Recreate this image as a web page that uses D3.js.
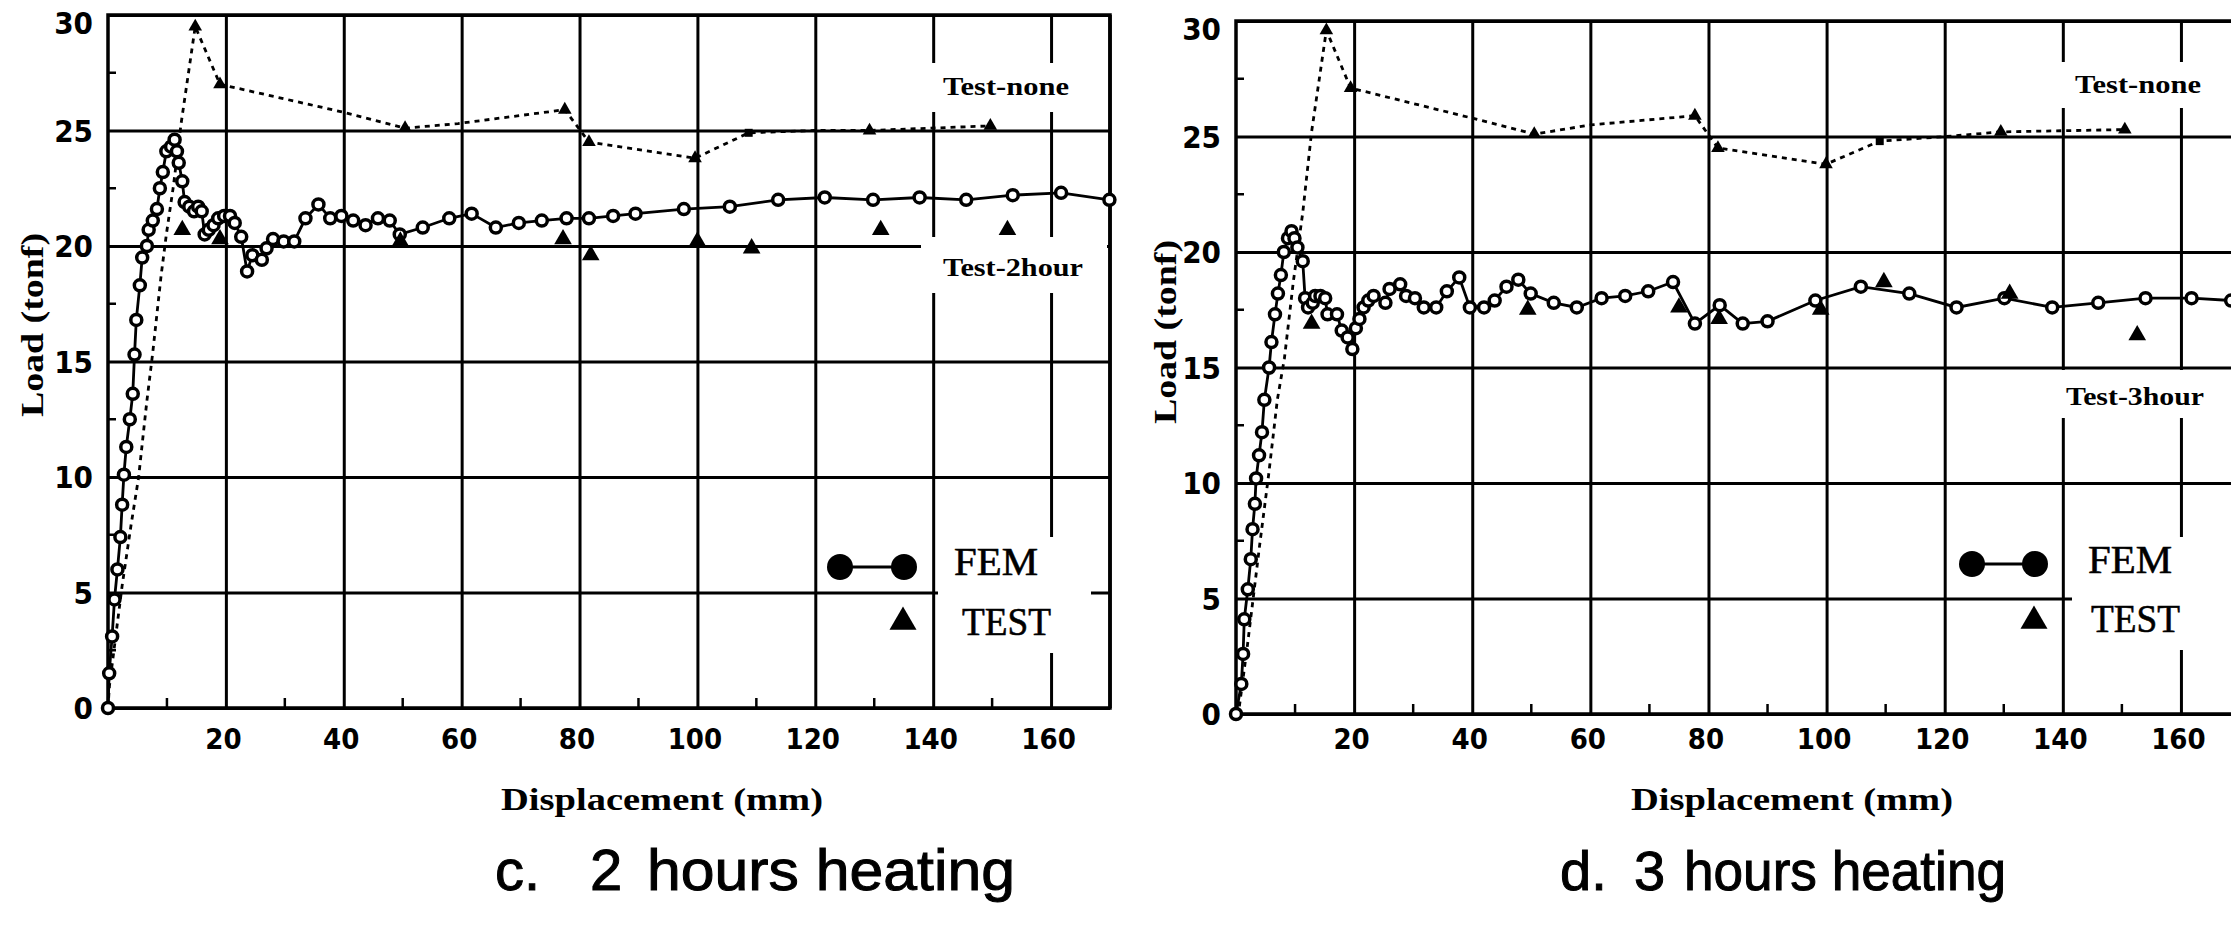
<!DOCTYPE html>
<html><head><meta charset="utf-8">
<script src="https://cdn.jsdelivr.net/npm/d3@7"></script>
<style>
html,body{margin:0;padding:0;background:#fff;}
svg{display:block;}
</style></head><body>
<svg id="chart" width="2231" height="929"></svg>
<script>
// ---------- shared axis values ----------
const xTickValues = [20, 40, 60, 80, 100, 120, 140, 160];
const yTickValues = [0, 5, 10, 15, 20, 25, 30];
const xMinorTicks = [10, 30, 50, 70, 90, 110, 130, 150];
const yMinorTicks = [2.5, 7.5, 12.5, 17.5, 22.5, 27.5];

// ---------- c. 2 hours heating ----------
const fem2X = [0,0.2,0.7,1.1,1.6,2.1,2.4,2.7,3.1,3.7,4.2,4.5,4.8,5.4,5.8,6.6,6.9,7.6,8.3,8.8,9.3,9.9,10.7,11.3,11.7,12.0,12.6,13.0,13.8,14.6,15.3,15.9,16.4,17.1,17.9,18.7,19.7,20.7,21.5,22.6,23.6,24.5,26.1,26.9,28.0,29.8,31.6,33.5,35.7,37.7,39.6,41.6,43.7,45.8,47.8,49.5,53.4,57.9,61.7,65.8,69.7,73.6,77.8,81.6,85.7,89.5,97.7,105.5,113.7,121.6,129.8,137.7,145.6,153.5,161.7,169.9];
const fem2Y = [0,1.5,3.1,4.7,6.0,7.4,8.8,10.1,11.3,12.5,13.6,15.3,16.8,18.3,19.5,20.0,20.7,21.1,21.6,22.5,23.2,24.1,24.3,24.6,24.1,23.6,22.8,21.9,21.7,21.5,21.7,21.5,20.5,20.7,20.9,21.2,21.3,21.3,21.0,20.4,18.9,19.6,19.4,19.9,20.3,20.2,20.2,21.2,21.8,21.2,21.3,21.1,20.9,21.2,21.1,20.5,20.8,21.2,21.4,20.8,21.0,21.1,21.2,21.2,21.3,21.4,21.6,21.7,22.0,22.1,22.0,22.1,22.0,22.2,22.3,22.0];
const test2X = [12.6, 19.0, 49.6, 77.2, 81.9, 100.0, 109.2, 131.1, 152.6];
const test2Y = [20.7, 20.3, 20.2, 20.3, 19.6, 20.2, 19.9, 20.7, 20.7];
const none2X = [0, 0.24, 2.4, 3.9, 5.2, 6.0, 6.6, 7.6, 9.0, 9.9, 11.1, 12.4, 14.8, 19.0, 39.8, 50.4, 59.4, 77.5, 81.6, 99.6, 108.7, 119.8, 129.2, 149.7];
const none2Y = [0, 0.95, 5.3, 7.9, 10.0, 11.9, 13.3, 15.4, 18.7, 20.5, 22.6, 25.3, 29.5, 27.0, 25.8, 25.1, 25.3, 25.9, 24.5, 23.8, 24.9, 25.0, 25.0, 25.2];
const none2Mark = ['', '', '', '', '', '', '', '', '', '', '', '', 't', 't', '', 't', '', 't', 't', 't', 's', '', 't', 't'];

// ---------- d. 3 hours heating ----------
const fem3X = [0,0.9,1.2,1.4,2.0,2.5,2.8,3.2,3.4,3.9,4.4,4.8,5.6,6.0,6.6,7.1,7.6,8.1,8.8,9.4,9.9,10.4,11.3,11.7,12.2,13.0,13.4,14.3,15.1,15.5,17.1,17.9,18.9,19.7,20.3,20.9,21.6,22.4,23.3,25.3,26.0,27.8,28.8,30.3,31.8,33.9,35.7,37.8,39.6,42.0,43.8,45.8,47.8,49.9,53.8,57.7,61.9,65.9,69.8,74.0,77.7,81.9,85.8,90.0,98.1,105.8,114.0,122.0,130.1,138.2,146.0,154.0,161.8,168.5];
const fem3Y = [0,1.3,2.6,4.1,5.4,6.7,8.0,9.1,10.2,11.2,12.2,13.6,15.0,16.1,17.3,18.2,19.0,20.0,20.6,20.9,20.6,20.2,19.6,18.0,17.6,17.8,18.1,18.1,18.0,17.3,17.3,16.6,16.3,15.8,16.7,17.1,17.6,17.9,18.1,17.8,18.4,18.6,18.1,18.0,17.6,17.6,18.3,18.9,17.6,17.6,17.9,18.5,18.8,18.2,17.8,17.6,18.0,18.1,18.3,18.7,16.9,17.7,16.9,17.0,17.9,18.5,18.2,17.6,18.0,17.6,17.8,18.0,18.0,17.9];
const test3X = [12.8, 49.4, 75.0, 81.8, 99.0, 109.7, 131.0, 152.6];
const test3Y = [16.9, 17.5, 17.6, 17.1, 17.5, 18.7, 18.2, 16.4];
const none3X = [0, 0.4, 1.9, 3.0, 4.0, 5.5, 7.0, 8.2, 9.7, 11.3, 12.8, 15.3, 19.4, 39.9, 50.5, 60.0, 77.7, 81.6, 99.9, 109.0, 120.2, 129.5, 150.5];
const none3Y = [0, 0.0, 2.9, 5.2, 7.3, 10.3, 13.6, 15.4, 18.7, 21.7, 25.2, 29.6, 27.1, 25.8, 25.1, 25.5, 25.9, 24.5, 23.8, 24.8, 25.0, 25.2, 25.3];
const none3Mark = ['', '', '', '', '', '', '', '', '', '', '', 't', 't', '', 't', '', 't', 't', 't', 's', '', 't', 't'];

const svg = d3.select('#chart');
const TICK_FONT = '"Liberation Sans Narrow", "DejaVu Sans Condensed", "Liberation Sans", sans-serif';
const SERIF = '"Liberation Serif", "DejaVu Serif", serif';
const SANS = '"Liberation Sans", Arial, sans-serif';

function drawPanel(cfg) {
  const g = svg.append('g');
  const x = d3.scaleLinear().domain([0, 170]).range([cfg.left, cfg.right]);
  const y = d3.scaleLinear().domain([0, 30]).range([cfg.bottom, cfg.top]);
  const W = cfg.right - cfg.left, H = cfg.bottom - cfg.top;

  // vertical gridlines + x tick labels
  const xa = g.append('g').attr('transform', `translate(0,${cfg.bottom})`)
    .call(d3.axisBottom(x).tickValues(xTickValues).tickSize(-H).tickPadding(cfg.xPad));
  xa.select('.domain').remove();
  xa.selectAll('.tick line').attr('stroke', '#000').attr('stroke-width', 3);
  xa.selectAll('.tick text').attr('font-family', TICK_FONT).attr('font-weight', 'bold')
    .attr('font-size', 29).attr('fill', '#000').attr('dx', -3);

  // horizontal gridlines + y tick labels
  const ya = g.append('g').attr('transform', `translate(${cfg.left},0)`)
    .call(d3.axisLeft(y).tickValues(yTickValues).tickSize(-W).tickPadding(cfg.yPad));
  ya.select('.domain').remove();
  ya.selectAll('.tick line').attr('stroke', '#000').attr('stroke-width', 3);
  ya.selectAll('.tick text').attr('font-family', TICK_FONT).attr('font-weight', 'bold')
    .attr('font-size', 31).attr('fill', '#000')
    .attr('dy', d => d === 30 ? '0.6em' : '0.35em');

  // minor ticks
  g.selectAll('.mx').data(xMinorTicks).join('line')
    .attr('x1', d => x(d)).attr('x2', d => x(d))
    .attr('y1', cfg.bottom).attr('y2', cfg.bottom - 10)
    .attr('stroke', '#000').attr('stroke-width', 2.5);
  g.selectAll('.my').data(yMinorTicks).join('line')
    .attr('x1', cfg.left).attr('x2', cfg.left + 8)
    .attr('y1', d => y(d)).attr('y2', d => y(d))
    .attr('stroke', '#000').attr('stroke-width', 2.5);

  // frame
  g.append('rect').attr('x', x(0)).attr('y', y(30)).attr('width', W).attr('height', H)
    .attr('fill', 'none').attr('stroke', '#000').attr('stroke-width', 3.5);

  // white boxes behind in-plot labels
  cfg.boxes.forEach(b => {
    g.append('rect').attr('x', cfg.left + b[0]).attr('y', cfg.top + b[1])
      .attr('width', b[2] - b[0]).attr('height', b[3] - b[1]).attr('fill', '#fff');
  });
  g.append('line').attr('x1', x(170)).attr('x2', x(170)).attr('y1', y(30)).attr('y2', y(0))
    .attr('stroke', '#000').attr('stroke-width', 3.5);

  // Test-none (dashed) line
  const noneData = cfg.noneX.map((v, i) => ({x: v, y: cfg.noneY[i], m: cfg.noneMark[i]}));
  g.append('path').datum(noneData)
    .attr('d', d3.line().x(d => x(d.x)).y(d => y(d.y)))
    .attr('fill', 'none').attr('stroke', '#000').attr('stroke-width', 2.8)
    .attr('stroke-dasharray', '5,5');
  g.selectAll('.nm').data(noneData.filter(d => d.m)).join('path')
    .attr('transform', d => `translate(${x(d.x)},${y(d.y)})`)
    .attr('d', d => d3.symbol(d.m === 's' ? d3.symbolSquare : d3.symbolTriangle, d.m === 's' ? 64 : 80)())
    .attr('fill', '#000');

  // FEM line + markers
  const femData = cfg.femX.map((v, i) => ({x: v, y: cfg.femY[i]}));
  g.append('path').datum(femData)
    .attr('d', d3.line().x(d => x(d.x)).y(d => y(d.y)))
    .attr('fill', 'none').attr('stroke', '#000').attr('stroke-width', 2.8);
  g.selectAll('.fm').data(femData).join('circle')
    .attr('cx', d => x(d.x)).attr('cy', d => y(d.y)).attr('r', 5.5)
    .attr('fill', '#fff').attr('stroke', '#000').attr('stroke-width', 3.5);

  // TEST triangles
  const testData = cfg.testX.map((v, i) => ({x: v, y: cfg.testY[i]}));
  g.selectAll('.tm').data(testData).join('path')
    .attr('transform', d => `translate(${x(d.x)},${y(d.y)})`)
    .attr('d', d3.symbol(d3.symbolTriangle, 135)())
    .attr('fill', '#000');

  // in-plot labels
  cfg.labels.forEach(l => {
    g.append('text').attr('x', cfg.left + l.x).attr('y', cfg.top + l.y)
      .attr('font-family', SERIF).attr('font-weight', 'bold').attr('font-size', 26)
      .attr('textLength', l.len).attr('lengthAdjust', 'spacingAndGlyphs')
      .text(l.t);
  });

  // legend
  const L = cfg.legend;
  g.append('line').attr('x1', cfg.left + L.c1).attr('x2', cfg.left + L.c2)
    .attr('y1', cfg.top + L.cy).attr('y2', cfg.top + L.cy)
    .attr('stroke', '#000').attr('stroke-width', 3);
  [L.c1, L.c2].forEach(cx => g.append('circle').attr('cx', cfg.left + cx).attr('cy', cfg.top + L.cy)
    .attr('r', 13).attr('fill', '#000'));
  g.append('path').attr('transform', `translate(${cfg.left + L.tx},${cfg.top + L.ty})`)
    .attr('d', d3.symbol(d3.symbolTriangle, 316)()).attr('fill', '#000');
  g.append('text').attr('x', cfg.left + L.fx).attr('y', cfg.top + L.fy)
    .attr('font-family', SERIF).attr('font-size', 40).attr('stroke', '#000').attr('stroke-width', 0.6)
    .attr('textLength', 84).attr('lengthAdjust', 'spacingAndGlyphs').text('FEM');
  g.append('text').attr('x', cfg.left + L.sx).attr('y', cfg.top + L.sy)
    .attr('font-family', SERIF).attr('font-size', 40).attr('stroke', '#000').attr('stroke-width', 0.6)
    .attr('textLength', 89).attr('lengthAdjust', 'spacingAndGlyphs').text('TEST');

  // axis titles
  svg.append('text').attr('x', cfg.xTitle[0]).attr('y', cfg.xTitle[1])
    .attr('text-anchor', 'middle').attr('font-family', SERIF).attr('font-weight', 'bold')
    .attr('font-size', 31)
    .attr('textLength', 322).attr('lengthAdjust', 'spacingAndGlyphs')
    .text('Displacement (mm)');
  svg.append('text')
    .attr('transform', `translate(${cfg.yTitle[0]},${cfg.yTitle[1]}) rotate(-90)`)
    .attr('text-anchor', 'middle').attr('dominant-baseline', 'central')
    .attr('font-family', SERIF).attr('font-weight', 'bold').attr('font-size', 32)
    .attr('textLength', 184).attr('lengthAdjust', 'spacingAndGlyphs')
    .text('Load (tonf)');
}

drawPanel({
  left: 108, right: 1110, top: 15, bottom: 708, xPad: 20, yPad: 15,
  femX: fem2X, femY: fem2Y, testX: test2X, testY: test2Y,
  noneX: none2X, noneY: none2Y, noneMark: none2Mark,
  boxes: [[807, 48, 987, 97], [813, 222, 999, 278], [830, 522, 983, 638]],
  labels: [{t: 'Test-none', x: 835, y: 80, len: 126}, {t: 'Test-2hour', x: 835, y: 261, len: 140}],
  legend: {c1: 732, c2: 796, cy: 552, tx: 795, ty: 607, fx: 846, fy: 560, sx: 854, sy: 620},
  xTitle: [662, 810], yTitle: [32, 325]
});

drawPanel({
  left: 1236, right: 2240, top: 21, bottom: 714, xPad: 14, yPad: 15,
  femX: fem3X, femY: fem3Y, testX: test3X, testY: test3Y,
  noneX: none3X, noneY: none3Y, noneMark: none3Mark,
  boxes: [[814, 41, 1000, 87], [806, 349, 1000, 397], [836, 516, 1000, 629]],
  labels: [{t: 'Test-none', x: 839, y: 72, len: 126}, {t: 'Test-3hour', x: 830, y: 384, len: 138}],
  legend: {c1: 736, c2: 799, cy: 543, tx: 798, ty: 600, fx: 852, fy: 552, sx: 855, sy: 611},
  xTitle: [1792, 810], yTitle: [1165, 332]
});

// captions
const cap = svg.append('g').attr('font-family', SANS).attr('fill', '#000')
  .attr('stroke', '#000').attr('stroke-width', 1);
cap.append('text').attr('x', 495).attr('y', 890).attr('font-size', 58).text('c.');
cap.append('text').attr('x', 590).attr('y', 890).attr('font-size', 58).text('2');
cap.append('text').attr('x', 647).attr('y', 890).attr('font-size', 58)
  .attr('textLength', 368).attr('lengthAdjust', 'spacingAndGlyphs').text('hours heating');
cap.append('text').attr('x', 1560).attr('y', 890).attr('font-size', 56).text('d.');
cap.append('text').attr('x', 1634).attr('y', 890).attr('font-size', 56).text('3');
cap.append('text').attr('x', 1684).attr('y', 890).attr('font-size', 56)
  .attr('textLength', 322).attr('lengthAdjust', 'spacingAndGlyphs').text('hours heating');
</script>
</body></html>
